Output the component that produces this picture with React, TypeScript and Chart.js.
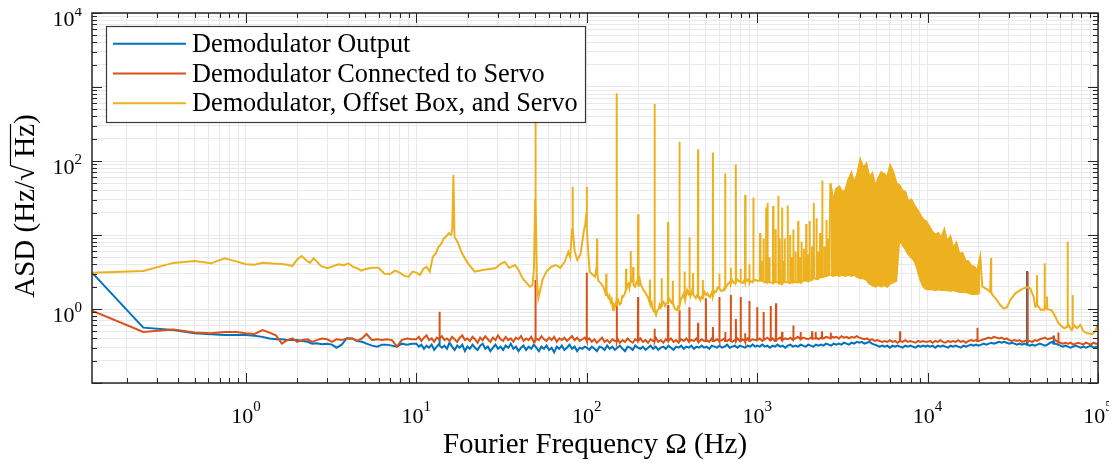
import { useEffect, useRef } from "react";
import { Chart, registerables } from "chart.js";

Chart.register(...registerables);

// ---------------- data ----------------
const seriesNames = [
  "Demodulator Output",
  "Demodulator Connected to Servo",
  "Demodulator, Offset Box, and Servo",
];
const seriesColors = ["#0072BD", "#D95319", "#EDB120"];

// low-frequency bins of the two quiet traces (Hz)
const lowFreqs = [
  0.125, 0.25, 0.375, 0.5, 0.625, 0.75, 0.875, 1.0, 1.125, 1.25, 1.375, 1.5, 1.625, 1.75, 1.875,
  2.0, 2.15, 2.3, 2.45, 2.6, 2.8, 3.0, 3.2, 3.4, 3.65, 3.9, 4.2, 4.5, 4.8, 5.1, 5.5, 5.9, 6.3, 6.7, 7.2, 7.7, 8.2, 8.8, 9.4,
];
const blueLow = [
  3.1, 0.56, 0.52, 0.47, 0.455, 0.445, 0.445, 0.445, 0.435, 0.42, 0.40, 0.39, 0.39, 0.38, 0.38,
  0.38, 0.37, 0.36, 0.34, 0.345, 0.335, 0.34, 0.33, 0.30, 0.33, 0.40, 0.40, 0.37, 0.36, 0.34, 0.32, 0.31, 0.33, 0.33, 0.32, 0.31, 0.34, 0.33, 0.34,
];
const redLow = [
  0.95, 0.49, 0.53, 0.48, 0.47, 0.49, 0.49, 0.47, 0.46, 0.52, 0.48, 0.44, 0.34, 0.38, 0.40,
  0.36, 0.38, 0.39, 0.36, 0.38, 0.40, 0.39, 0.36, 0.39, 0.38, 0.40, 0.40, 0.37, 0.40, 0.46, 0.38, 0.39, 0.38, 0.39, 0.38, 0.31, 0.38, 0.40, 0.39,
];

// noise floor from 10 Hz up: mantissas within each decade
const noiseMantissas = [
  1.000, 1.035, 1.071, 1.109, 1.148, 1.188, 1.230, 1.273, 1.318, 1.364,
  1.412, 1.462, 1.513, 1.566, 1.621, 1.678, 1.737, 1.798, 1.861, 1.926,
  1.994, 2.064, 2.136, 2.211, 2.289, 2.369, 2.452, 2.538, 2.627, 2.719,
  2.815, 2.913, 3.016, 3.121, 3.231, 3.344, 3.462, 3.583, 3.709, 3.839,
  3.974, 4.113, 4.258, 4.407, 4.562, 4.722, 4.888, 5.059, 5.237, 5.420,
  5.611, 5.808, 6.011, 6.222, 6.441, 6.667, 6.901, 7.143, 7.394, 7.653,
  7.922, 8.200, 8.488, 8.786, 9.094, 9.413, 9.744,
];
const noiseDecades = [10, 100, 1000, 10000];

const blueNoise10 = [
  0.34, 0.31, 0.33, 0.29, 0.32, 0.30, 0.33, 0.28, 0.31, 0.34,
  0.30, 0.32, 0.29, 0.35, 0.31, 0.28, 0.32, 0.30, 0.33, 0.27,
  0.31, 0.29, 0.33, 0.30, 0.28, 0.32, 0.34, 0.29, 0.31, 0.27,
  0.30, 0.33, 0.29, 0.31, 0.28, 0.32, 0.30, 0.34, 0.29, 0.31,
  0.27, 0.30, 0.32, 0.28, 0.31, 0.29, 0.33, 0.30, 0.27, 0.31,
  0.29, 0.32, 0.28, 0.30, 0.26, 0.31, 0.29, 0.32, 0.28, 0.30,
  0.33, 0.29, 0.31, 0.27, 0.30, 0.29, 0.31,
];
const blueNoise100 = [
  0.30, 0.28, 0.31, 0.29, 0.27, 0.31, 0.30, 0.28, 0.32, 0.29,
  0.31, 0.28, 0.30, 0.32, 0.29, 0.27, 0.31, 0.30, 0.28, 0.32,
  0.30, 0.29, 0.31, 0.28, 0.30, 0.32, 0.29, 0.31, 0.28, 0.30,
  0.31, 0.29, 0.32, 0.30, 0.28, 0.31, 0.30, 0.32, 0.29, 0.31,
  0.30, 0.32, 0.29, 0.31, 0.30, 0.32, 0.30, 0.31, 0.29, 0.32,
  0.31, 0.30, 0.32, 0.30, 0.31, 0.33, 0.30, 0.31, 0.32, 0.30,
  0.32, 0.31, 0.30, 0.32, 0.31, 0.33, 0.31,
];
const blueNoise1k = [
  0.32, 0.31, 0.33, 0.31, 0.32, 0.30, 0.32, 0.31, 0.33, 0.31,
  0.32, 0.30, 0.32, 0.33, 0.31, 0.32, 0.31, 0.33, 0.32, 0.31,
  0.33, 0.32, 0.31, 0.33, 0.32, 0.33, 0.32, 0.34, 0.33, 0.32,
  0.34, 0.33, 0.34, 0.33, 0.35, 0.34, 0.33, 0.35, 0.34, 0.36,
  0.35, 0.36, 0.34, 0.35, 0.36, 0.34, 0.33, 0.32, 0.31, 0.32,
  0.31, 0.32, 0.30, 0.32, 0.31, 0.32, 0.31, 0.30, 0.32, 0.31,
  0.32, 0.31, 0.30, 0.32, 0.31, 0.32, 0.31,
];
const blueNoise10k = [
  0.32, 0.31, 0.32, 0.30, 0.32, 0.31, 0.32, 0.31, 0.30, 0.32,
  0.31, 0.32, 0.31, 0.30, 0.32, 0.31, 0.32, 0.33, 0.32, 0.33,
  0.32, 0.33, 0.34, 0.33, 0.34, 0.35, 0.34, 0.35, 0.36, 0.35,
  0.36, 0.35, 0.34, 0.35, 0.34, 0.33, 0.34, 0.33, 0.34, 0.33,
  0.32, 0.33, 0.32, 0.33, 0.34, 0.33, 0.32, 0.33, 0.35, 0.36,
  0.34, 0.33, 0.32, 0.31, 0.32, 0.31, 0.30, 0.31, 0.32, 0.31,
  0.30, 0.31, 0.30, 0.31, 0.32, 0.30, 0.31,
];
const blueEnd = 0.31;

const redNoise10 = [
  0.39, 0.42, 0.37, 0.41, 0.44, 0.38, 0.40, 0.36, 0.41, 0.39,
  0.43, 0.38, 0.40, 0.37, 0.42, 0.39, 0.36, 0.41, 0.44, 0.38,
  0.40, 0.37, 0.42, 0.39, 0.35, 0.41, 0.38, 0.43, 0.39, 0.36,
  0.41, 0.38, 0.44, 0.39, 0.37, 0.42, 0.38, 0.40, 0.36, 0.41,
  0.39, 0.43, 0.37, 0.40, 0.38, 0.42, 0.36, 0.40, 0.38, 0.43,
  0.39, 0.37, 0.41, 0.38, 0.42, 0.36, 0.40, 0.38, 0.41, 0.37,
  0.40, 0.43, 0.38, 0.41, 0.37, 0.39, 0.41,
];
const redNoise100 = [
  0.37, 0.40, 0.36, 0.39, 0.35, 0.38, 0.41, 0.36, 0.38, 0.35,
  0.39, 0.37, 0.40, 0.35, 0.38, 0.36, 0.40, 0.37, 0.35, 0.39,
  0.37, 0.40, 0.36, 0.38, 0.35, 0.39, 0.37, 0.41, 0.36, 0.38,
  0.35, 0.39, 0.37, 0.40, 0.36, 0.38, 0.35, 0.39, 0.37, 0.40,
  0.36, 0.38, 0.37, 0.40, 0.36, 0.39, 0.37, 0.38, 0.36, 0.40,
  0.37, 0.39, 0.36, 0.38, 0.40, 0.37, 0.39, 0.36, 0.38, 0.40,
  0.37, 0.39, 0.38, 0.40, 0.37, 0.39, 0.38,
];
const redNoise1k = [
  0.38, 0.40, 0.37, 0.39, 0.41, 0.38, 0.40, 0.37, 0.39, 0.41,
  0.38, 0.40, 0.39, 0.41, 0.38, 0.40, 0.42, 0.39, 0.41, 0.40,
  0.39, 0.41, 0.40, 0.42, 0.39, 0.41, 0.40, 0.42, 0.41, 0.43,
  0.41, 0.42, 0.40, 0.43, 0.41, 0.42, 0.40, 0.42, 0.41, 0.43,
  0.41, 0.40, 0.39, 0.40, 0.38, 0.39, 0.37, 0.38, 0.37, 0.36,
  0.37, 0.36, 0.38, 0.36, 0.37, 0.35, 0.37, 0.36, 0.38, 0.36,
  0.37, 0.36, 0.35, 0.37, 0.36, 0.37, 0.36,
];
const redNoise10k = [
  0.36, 0.37, 0.35, 0.37, 0.36, 0.38, 0.36, 0.35, 0.37, 0.36,
  0.37, 0.36, 0.38, 0.36, 0.37, 0.35, 0.37, 0.38, 0.37, 0.38,
  0.37, 0.38, 0.39, 0.40, 0.41, 0.40, 0.42, 0.41, 0.40, 0.41,
  0.39, 0.40, 0.38, 0.37, 0.38, 0.37, 0.38, 0.36, 0.37, 0.38,
  0.37, 0.36, 0.38, 0.37, 0.39, 0.40, 0.41, 0.39, 0.40, 0.41,
  0.38, 0.36, 0.35, 0.34, 0.35, 0.34, 0.35, 0.33, 0.34, 0.35,
  0.34, 0.33, 0.35, 0.34, 0.33, 0.35, 0.34,
];
const redEnd = 0.34;

// narrow lines: [frequency, peak, floor]
const blueSpikes: [number, number, number][] = [
  [13.7, 0.42, 0.32], [38300, 3.26, 0.33], [55000, 0.44, 0.34],
];
const redSpikes: [number, number, number][] = [
  [13.7, 0.92, 0.4], [50, 2.47, 0.38], [100, 3.1, 0.38], [150, 1.4, 0.37], [200, 1.45, 0.37],
  [250, 0.54, 0.37], [300, 1.13, 0.37], [350, 0.97, 0.37], [400, 1.06, 0.37], [450, 0.65, 0.37],
  [500, 1.4, 0.37], [550, 0.57, 0.37], [600, 1.45, 0.37], [650, 0.49, 0.37], [700, 1.55, 0.37],
  [750, 0.73, 0.37], [800, 1.45, 0.37], [850, 0.47, 0.37], [900, 1.28, 0.37], [1000, 1.06, 0.38],
  [1090, 0.91, 0.38], [1200, 1.1, 0.38], [1290, 1.2, 0.38], [1400, 0.49, 0.38], [1630, 0.6, 0.39],
  [1800, 0.49, 0.39], [2100, 0.5, 0.4], [2200, 0.49, 0.4], [2400, 0.5, 0.4], [2700, 0.48, 0.4],
  [6900, 0.5, 0.37], [19600, 0.56, 0.37], [38700, 3.2, 0.37], [58500, 0.48, 0.35],
];

const yellowLow: [number, number][] = [
  [0.125, 3.1], [0.25, 3.26], [0.375, 4.2], [0.5, 4.45], [0.625, 4.14], [0.75, 4.84], [0.875, 4.4],
  [1.0, 4.02], [1.125, 3.97], [1.25, 4.2], [1.375, 4.15], [1.5, 4.1], [1.625, 4.06], [1.75, 3.95],
  [1.875, 3.81], [2.0, 4.69], [2.125, 5.2], [2.25, 4.6], [2.375, 4.2], [2.5, 4.84], [2.625, 4.3],
  [2.75, 3.81], [3.0, 3.55], [3.25, 3.8], [3.5, 4.02], [3.75, 3.9], [4.0, 4.14], [4.25, 3.7],
  [4.5, 3.55], [4.75, 3.3], [5.0, 3.45], [5.5, 3.6], [6.0, 3.6], [6.5, 3.0], [7.0, 2.97], [7.5, 3.3],
  [8.0, 3.1], [8.5, 2.8], [9.0, 2.73], [9.5, 3.2], [10, 3.1], [10.5, 2.88], [11, 3.5], [11.5, 3.72],
  [12, 3.2], [12.5, 5.1], [13, 5.6], [13.5, 6.95], [14, 7.6], [14.5, 9.0], [15, 9.6], [15.5, 10.6],
  [16, 10.0], [16.25, 12], [16.5, 64.5], [16.75, 9.5], [17.5, 8.0], [18.5, 5.7], [20, 4.2], [22, 3.2],
  [25, 3.4], [29, 3.55], [31, 4.0], [33, 4.35], [35, 3.6], [38, 3.93], [40, 3.3], [42, 2.6], [44, 2.3],
  [46.5, 2.0], [48, 2.1], [49, 3.5], [49.8, 30], [50, 3700], [50.2, 30], [51, 2.5], [52, 1.4], [53, 1.7],
  [55, 2.47], [58, 3.2], [62, 3.73], [66, 3.93], [70, 3.6], [74, 4.3], [78, 5.9], [80, 5.0], [82, 12],
  [82.5, 45], [83, 12], [85, 6.0], [88, 4.6], [92, 5.5], [96, 11.1], [98, 14], [99.7, 20], [100, 45],
  [100.3, 12], [102, 6], [104, 3.2], [108, 2.9], [112, 2.73], [114.7, 4], [115, 9.0], [115.3, 3],
  [117, 2.4], [121, 2.22],
];

const yellowMid: [number, number][] = [
  [123, 2.1], [125, 2.0], [127, 1.8], [129, 1.65], [131, 1.75], [133, 1.45], [134.5, 1.4], [136, 1.5],
  [138, 1.25], [140, 1.35], [142.6, 0.97], [144.5, 1.15], [146.6, 1.1], [149, 1.25], [153, 1.32],
  [156, 1.15], [159, 1.2], [161.5, 1.5], [164, 1.47], [167, 1.6], [171, 1.8], [173, 2.1], [175.6, 2.2],
  [178, 1.9], [183, 2.4], [185, 2.6], [189, 2.1], [192, 2.0], [196, 2.3], [202, 2.0], [205, 2.47],
  [208, 2.1], [211, 2.0], [215, 1.8], [220, 1.7], [224, 1.55], [228, 1.47], [232, 1.3], [237, 1.2],
  [240, 1.25], [242, 1.07], [246, 0.95], [252, 0.9], [255, 0.83], [259, 0.95], [264, 1.0], [268, 1.15],
  [272, 1.05], [277, 1.19], [282, 1.25], [288, 1.1], [293, 1.2], [304, 1.4], [309, 1.32], [315, 1.2],
  [323, 1.1], [330, 1.0], [339, 0.97], [345, 1.1], [357, 1.35], [364, 1.47], [370, 1.6], [378, 1.3],
  [383, 1.55], [388, 1.8], [395, 1.6], [403, 1.7], [407, 1.5], [414, 1.75], [420, 1.63], [428, 1.5],
  [437, 1.4], [445, 1.55], [458, 1.45], [464, 1.32], [472, 1.45], [482, 1.5], [490, 1.7], [500, 1.55],
  [510, 1.63], [520, 1.5], [530, 1.45], [540, 1.65], [551, 1.5], [562, 1.75], [574, 1.7], [587, 1.95],
  [601, 1.9], [615, 1.75], [632, 1.8], [648, 2.0], [666, 2.1], [690, 2.3], [713, 2.47], [730, 2.25],
  [748, 2.3], [765, 2.5], [779, 2.4], [800, 2.3], [822, 2.25], [840, 2.45], [858, 2.34], [880, 2.5],
  [908, 2.4], [940, 2.3], [980, 2.47],
];

const yellowHigh: [number, number][] = [
  [1000, 2.4], [1050, 2.5], [1100, 2.3], [1170, 2.4], [1250, 2.25], [1320, 2.3], [1400, 2.2],
  [1480, 2.3], [1560, 2.25], [1650, 2.35], [1750, 2.3], [1850, 2.4], [1950, 2.45], [2050, 2.5],
  [2150, 2.6], [2250, 2.55], [2350, 2.7], [2450, 2.75], [2550, 2.8], [2640, 2.85],
];

// dense comb 2.7 kHz – 20 kHz: frequencies, line tops, floor under the comb
const yellowBandF = [
  2690, 2800, 2910, 3030, 3160, 3290, 3430, 3570, 3710, 3870,
  4030, 4200, 4370, 4550, 4740, 4930, 5140, 5350, 5570, 5800,
  6040, 6290, 6550, 6820, 7100, 7400, 7700, 8020, 8350, 8700,
  9060, 9430, 9830, 10230, 10660, 11100, 11560, 12030, 12530, 13050,
  13590, 14150, 14740, 15350, 15980, 16640, 17330, 18050, 18800, 19570,
  20380,
];
const yellowBandTop = [
  49.8, 28, 42, 45, 38, 40, 55, 68, 50, 66,
  103, 80, 91, 59, 68, 45, 58, 70, 66, 60,
  86, 70, 50, 47, 40, 38, 28, 30, 25, 21.7,
  18.6, 16, 15.1, 12.9, 11, 10, 10.6, 9, 11.7, 8,
  9.5, 6.5, 7.8, 5.5, 5.7, 4.5, 4.4, 3.8, 3.7, 3.2,
  5.1,
];
const yellowBandBottom = [
  2.9, 2.8, 2.9, 2.8, 2.9, 2.8, 2.9, 2.8, 2.9, 2.7,
  2.6, 2.6, 2.5, 2.2, 2.1, 2.0, 2.1, 2.0, 2.1, 2.0,
  2.2, 2.3, 2.4, 8.5, 7.5, 6.5, 5.5, 5, 4.5, 3.5,
  2.5, 2.0, 1.85, 1.85, 1.85, 1.8, 1.85, 1.8, 1.8, 1.8,
  1.75, 1.8, 1.75, 1.7, 1.7, 1.7, 1.65, 1.6, 1.6, 1.6,
  1.7,
];

const yellowTail: [number, number][] = [
  [20940, 2.0], [21800, 1.9], [22700, 1.8], [23300, 1.7], [24000, 1.55], [25000, 1.4], [26700, 1.13],
  [27900, 1.02], [29200, 1.05], [30600, 1.32], [32700, 1.63], [35000, 1.8], [37400, 1.94], [38600, 1.97],
  [40000, 1.9], [41900, 1.47], [42900, 1.07], [44500, 1.1], [46300, 0.97], [49500, 1.07], [53700, 0.95],
  [56150, 0.79], [58700, 0.64], [61500, 0.58], [63400, 0.55], [67500, 0.6], [69400, 0.53], [72500, 0.6],
  [75300, 0.55], [78700, 0.61], [82300, 0.5], [86200, 0.47], [92200, 0.46], [96400, 0.5], [100000, 0.63],
];

const yellowSpikes: [number, number, number][] = [
  [130, 3.0, 1.5], [150, 822, 1.2], [170, 3.5, 1.8], [181, 6.1, 2.3], [187, 3.7, 2.3], [200, 19, 2.2],
  [235, 2.5, 1.2], [250, 589, 1.0], [275, 2.6, 1.1], [300, 15, 1.2], [320, 2.4, 1.2], [350, 182, 1.1],
  [375, 3.2, 1.4], [400, 9.3, 1.7], [420, 3.06, 1.6], [450, 144, 1.5], [480, 2.47, 1.4], [550, 130, 1.5],
  [600, 3.0, 1.9], [650, 68, 1.9], [700, 3.6, 2.2], [750, 90, 2.3], [800, 3.5, 2.3], [850, 34.8, 2.3],
  [900, 4.0, 2.3], [950, 32, 2.4], [1040, 10.6, 2.4], [1060, 4.5, 2.4], [1090, 9, 2.4], [1130, 23.6, 2.3],
  [1150, 27, 2.3], [1180, 5, 2.3], [1240, 24.6, 2.25], [1270, 4.2, 2.3], [1285, 12, 2.3], [1330, 34, 2.3],
  [1350, 5.5, 2.2], [1360, 9, 2.2], [1400, 23.6, 2.2], [1430, 4.5, 2.3], [1450, 9, 2.3], [1510, 25, 2.3],
  [1560, 10, 2.25], [1600, 5, 2.3], [1630, 11.9, 2.3], [1680, 6, 2.3], [1740, 15.4, 2.3], [1780, 5, 2.3],
  [1820, 8.1, 2.3], [1880, 6.5, 2.4], [1940, 14.1, 2.4], [1990, 5.5, 2.4], [2030, 15.4, 2.45],
  [2100, 7, 2.5], [2150, 27, 2.6], [2230, 16.8, 2.55], [2290, 6, 2.6], [2340, 10.6, 2.7], [2410, 54.5, 2.7],
  [2480, 7, 2.75], [2550, 15.9, 2.8], [2620, 9, 2.85],
  [23560, 4.9, 1.7], [43850, 2.88, 1.1], [48600, 4.14, 1.0], [50200, 1.47, 1.0], [66300, 8.1, 0.58],
  [70950, 1.55, 0.55],
];

// axes
const xMin = 0.125;
const xMax = 1e5;
const yMin = 0.1;
const yMax = 1e4;
const xDecades = [0.1, 1, 10, 100, 1000, 10000, 100000];
const yDecades = [0.1, 1, 10, 100, 1000, 10000];
const minorSteps = [2, 3, 4, 5, 6, 7, 8, 9];
const xLabelExps = ["0", "1", "2", "3", "4", "5"];
const yLabelExps = ["0", "2", "4"];
const xTitle = "Fourier Frequency \u03A9 (Hz)";
const yTitleParts = ["ASD (Hz/", "\u221A", " Hz", ")"];

// ---------------- helpers ----------------
type Pt = { x: number; y: number };
const byX = (a: Pt, b: Pt) => a.x - b.x;
const spikePts = (list: [number, number, number][]): Pt[] =>
  list.flatMap(([f, peak, foot]) => [
    { x: f * 0.997, y: foot },
    { x: f, y: peak },
    { x: f * 1.003, y: foot },
  ]);
const pairPts = (list: [number, number][]): Pt[] => list.map(([x, y]) => ({ x, y }));
const noisePts = (perDecade: number[][]): Pt[] =>
  noiseDecades.flatMap((d, k) => noiseMantissas.map((m, i) => ({ x: d * m, y: perDecade[k][i] })));

const blueData = [
  ...lowFreqs.map((f, i) => ({ x: f, y: blueLow[i] })),
  ...noisePts([blueNoise10, blueNoise100, blueNoise1k, blueNoise10k]),
  { x: xMax, y: blueEnd },
  ...spikePts(blueSpikes),
].sort(byX);
const redData = [
  ...lowFreqs.map((f, i) => ({ x: f, y: redLow[i] })),
  ...noisePts([redNoise10, redNoise100, redNoise1k, redNoise10k]),
  { x: xMax, y: redEnd },
  ...spikePts(redSpikes),
].sort(byX);
const bandTopPts = yellowBandF.map((f, i) => ({ x: f, y: yellowBandTop[i] }));
const bandBottomPts = yellowBandF.map((f, i) => ({ x: f, y: yellowBandBottom[i] }));
const yellowData = [
  ...pairPts(yellowLow),
  ...pairPts(yellowMid),
  ...pairPts(yellowHigh),
  ...bandTopPts,
  ...pairPts(yellowTail),
  ...spikePts(yellowSpikes),
].sort(byX);

const withMinors = (decades: number[], lo: number, hi: number) =>
  decades
    .flatMap((d) => [d, ...minorSteps.map((m) => d * m)])
    .filter((v) => v >= lo * 0.999 && v <= hi * 1.001);

const xGrid = withMinors(xDecades, xMin, xMax);
const yGrid = withMinors(yDecades, yMin, yMax);

const FONT = "'Liberation Serif', 'Times New Roman', serif";
const AXIS_COLOR = "#262626";

const framePlugin = {
  id: "matlabFrame",
  afterDatasetsDraw(chart: any) {
    const { ctx, chartArea: a } = chart;
    const xs = chart.scales.x;
    const ys = chart.scales.y;
    ctx.save();
    ctx.strokeStyle = AXIS_COLOR;
    ctx.lineWidth = 1;
    ctx.beginPath();
    for (const v of xGrid) {
      const major = xDecades.includes(v);
      const len = major ? 10 : 5;
      const px = Math.round(xs.getPixelForValue(v)) + 0.5;
      ctx.moveTo(px, a.bottom);
      ctx.lineTo(px, a.bottom - len);
      ctx.moveTo(px, a.top);
      ctx.lineTo(px, a.top + len);
    }
    for (const v of yGrid) {
      const major = yDecades.includes(v);
      const len = major ? 10 : 5;
      const py = Math.round(ys.getPixelForValue(v)) + 0.5;
      ctx.moveTo(a.left, py);
      ctx.lineTo(a.left + len, py);
      ctx.moveTo(a.right, py);
      ctx.lineTo(a.right - len, py);
    }
    ctx.stroke();
    ctx.lineWidth = 1.5;
    ctx.strokeRect(a.left, a.top, a.right - a.left, a.bottom - a.top);

    // legend
    const lx = a.left + 14;
    const ly = a.top + 13;
    const lw = 479;
    const lh = 96;
    ctx.fillStyle = "#ffffff";
    ctx.fillRect(lx, ly, lw, lh);
    ctx.lineWidth = 1.2;
    ctx.strokeStyle = "#3a3a3a";
    ctx.strokeRect(lx + 0.5, ly + 0.5, lw, lh);
    ctx.font = `26.3px ${FONT}`;
    ctx.textAlign = "left";
    ctx.textBaseline = "alphabetic";
    seriesNames.forEach((name, i) => {
      const cy = ly + 17.7 + i * 29.8;
      ctx.strokeStyle = seriesColors[i];
      ctx.lineWidth = 2;
      ctx.beginPath();
      ctx.moveTo(lx + 7, cy);
      ctx.lineTo(lx + 80, cy);
      ctx.stroke();
      ctx.fillStyle = "#000000";
      ctx.fillText(name, lx + 86, cy + 8);
    });
    ctx.restore();
  },
  afterDraw(chart: any) {
    const { ctx, chartArea: a } = chart;
    const xs = chart.scales.x;
    const ys = chart.scales.y;
    ctx.save();
    ctx.fillStyle = "#000000";
    ctx.textBaseline = "alphabetic";
    ctx.textAlign = "left";
    const big = `22px ${FONT}`;
    const small = `15px ${FONT}`;
    // x tick labels
    for (const e of xLabelExps) {
      const px = xs.getPixelForValue(Math.pow(10, Number(e)));
      ctx.font = big;
      const w1 = ctx.measureText("10").width;
      ctx.font = small;
      const w2 = ctx.measureText(e).width;
      const sx = px - (w1 + w2) / 2;
      ctx.font = big;
      ctx.fillText("10", sx, a.bottom + 40);
      ctx.font = small;
      ctx.fillText(e, sx + w1, a.bottom + 28);
    }
    // y tick labels
    for (const e of yLabelExps) {
      const py = ys.getPixelForValue(Math.pow(10, Number(e)));
      ctx.font = big;
      const w1 = ctx.measureText("10").width;
      ctx.font = small;
      const w2 = ctx.measureText(e).width;
      const right = a.left - 10;
      const sx = right - w1 - w2;
      ctx.font = big;
      ctx.fillText("10", sx, py + 13);
      ctx.font = small;
      ctx.fillText(e, sx + w1, py + 3);
    }
    // x title
    ctx.font = `29px ${FONT}`;
    ctx.textAlign = "center";
    ctx.fillText(xTitle, (a.left + a.right) / 2, a.bottom + 70);
    // y title (rotated)
    ctx.font = `29px ${FONT}`;
    ctx.textAlign = "left";
    const widths = yTitleParts.map((t) => ctx.measureText(t).width);
    const total = widths.reduce((s, w) => s + w, 0);
    ctx.translate(a.left - 58.5, (a.top + a.bottom) / 2 + 8);
    ctx.rotate(-Math.PI / 2);
    let cx = -total / 2;
    yTitleParts.forEach((t, i) => {
      ctx.fillText(t, cx, 0);
      if (i === 2) {
        ctx.strokeStyle = "#000000";
        ctx.lineWidth = 1.2;
        ctx.beginPath();
        ctx.moveTo(cx - 1, -23);
        ctx.lineTo(cx + widths[i], -23);
        ctx.stroke();
      }
      cx += widths[i];
    });
    ctx.restore();
  },
};

export default function App() {
  const ref = useRef<HTMLCanvasElement | null>(null);
  useEffect(() => {
    if (!ref.current) return;
    const gridOpts = { color: "#e9e9e9", lineWidth: 1, drawTicks: false };
    const yellow = seriesColors[2];
    const chart = new Chart(ref.current, {
      type: "line",
      data: {
        datasets: [
          { label: seriesNames[0], data: blueData, borderColor: seriesColors[0], borderWidth: 2, pointRadius: 0, order: 2 },
          { label: seriesNames[1], data: redData, borderColor: seriesColors[1], borderWidth: 2, pointRadius: 0, order: 1 },
          { label: seriesNames[2], data: yellowData, borderColor: yellow, borderWidth: 2, pointRadius: 0, order: 0 },
          { label: "comb-top", data: bandTopPts, borderColor: yellow, borderWidth: 2, backgroundColor: yellow, fill: "+1", pointRadius: 0, order: 0 },
          { label: "comb-floor", data: bandBottomPts, borderColor: yellow, borderWidth: 2, pointRadius: 0, order: 0 },
        ],
      },
      options: {
        animation: false,
        responsive: false,
        events: [],
        layout: { padding: { left: 92, right: 19, top: 13, bottom: 85 } },
        elements: { line: { tension: 0, borderJoinStyle: "miter" } },
        plugins: { legend: { display: false }, tooltip: { enabled: false } },
        scales: {
          x: {
            type: "logarithmic",
            min: xMin,
            max: xMax,
            afterBuildTicks: (axis: any) => {
              axis.ticks = xGrid.map((v) => ({ value: v }));
            },
            ticks: { display: false },
            grid: gridOpts,
            border: { display: false },
          },
          y: {
            type: "logarithmic",
            min: yMin,
            max: yMax,
            afterBuildTicks: (axis: any) => {
              axis.ticks = yGrid.map((v) => ({ value: v }));
            },
            ticks: { display: false },
            grid: gridOpts,
            border: { display: false },
          },
        },
      } as any,
      plugins: [framePlugin],
    });
    return () => chart.destroy();
  }, []);
  return (
    <div style={{ width: 1117, height: 468, margin: -8 }}>
      <canvas ref={ref} width={1117} height={468} style={{ display: "block" }} />
    </div>
  );
}
